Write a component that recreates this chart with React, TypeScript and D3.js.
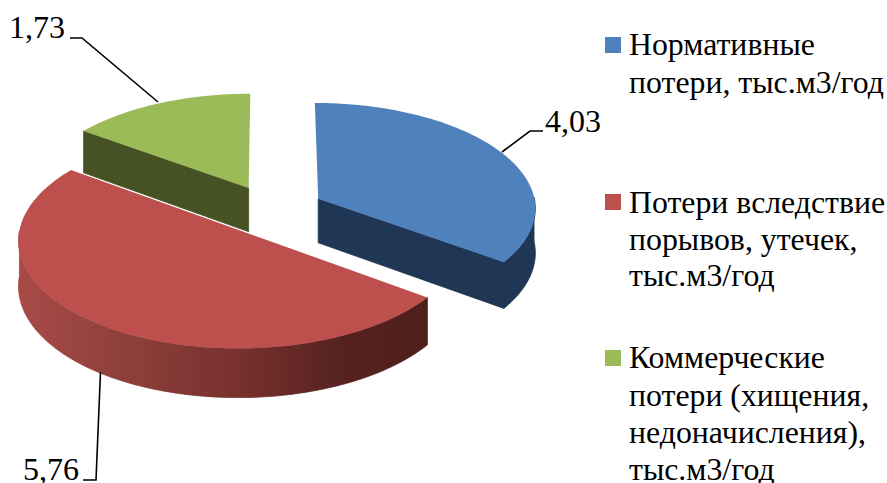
import React from "react";
import * as d3 from "d3";

const categories = ["Нормативные потери, тыс.м3/год", "Потери вследствие порывов, утечек, тыс.м3/год", "Коммерческие потери (хищения, недоначисления), тыс.м3/год"];
const values = [4.03, 5.76, 1.73];
const valueLabels = ["4,03", "5,76", "1,73"];
const topColors = ["#4f81bd", "#bd4f4c", "#9bbb59"];
const sideColors = ["#1f3654", "url(#redRim)", "#465223"];
const cutColors = ["#1f3654", "#4f1f1c", "#465223"];
const legendLines = [
  ["Нормативные", "потери, тыс.м3/год"],
  ["Потери вследствие", "порывов, утечек,", "тыс.м3/год"],
  ["Коммерческие", "потери (хищения,", "недоначисления),", "тыс.м3/год"],
];
const legendBaselines = [[55, 93], [213, 250, 286], [368, 406, 443, 480]];
const legendSwatchY = [37, 194, 350];
const labelPos = [[545, 132], [23, 480], [9, 38]];
const leaders = [
  [[502, 152], [530, 131], [543, 131]],
  [[100.5, 372], [96, 480], [83, 480]],
  [[158, 102], [82, 38], [70, 38]],
];

const W = 887, H = 483;
const CX = 272, CY = 210, RX = 218, RY = 105, PERSP = 0.079, DEPTH = 44.5, EXPLODE = 0.24;

type P = [number, number];
const project = (X: number, Z: number, drop = 0): P => {
  const s = 1 / (1 - PERSP * Z);
  return [CX + RX * X * s, CY + RY * Z * s + drop * DEPTH * s];
};
const line = d3.line<P>();
const arcs = d3.pie<number>().sort(null).value((d) => d)(values);

function sliceGeom(a: d3.PieArcDatum<number>) {
  const mid = (a.startAngle + a.endAngle) / 2;
  const ox = EXPLODE * Math.sin(mid), oz = -EXPLODE * Math.cos(mid);
  const pt = (t: number, drop = 0) => project(ox + Math.sin(t), oz - Math.cos(t), drop);
  const apex = (drop = 0) => project(ox, oz, drop);
  const n = 120;
  const ts = d3.range(n + 1).map((i) => a.startAngle + ((a.endAngle - a.startAngle) * i) / n);
  return { pt, apex, ts };
}

export default function App() {
  const geoms = arcs.map(sliceGeom);
  return (
    <svg width={W} height={H} viewBox={`0 0 ${W} ${H}`} style={{ position: "absolute", left: 0, top: 0, background: "#fff" }}>
      <defs>
        <linearGradient id="redRim" gradientUnits="userSpaceOnUse" x1={18} x2={425} y1={0} y2={0}>
          <stop offset="0" stopColor="#a84b47" />
          <stop offset="0.25" stopColor="#8f403c" />
          <stop offset="0.55" stopColor="#76302d" />
          <stop offset="0.8" stopColor="#55221f" />
          <stop offset="1" stopColor="#4f1f1c" />
        </linearGradient>
      </defs>
      {[2, 0, 1].map((i) => {
        const g = geoms[i];
        const top = g.ts.map((t) => g.pt(t));
        const topPath = line([g.apex(), ...top])! + "Z";
        const rimTs = g.ts.filter((t) => Math.cos(t) < 0.02);
        const rim = rimTs.length
          ? line([...rimTs.map((t) => g.pt(t)), ...rimTs.slice().reverse().map((t) => g.pt(t, 1))])! + "Z"
          : null;
        // the cut face that turns to the viewer: end edge for the first slice, start edge for the last
        const cutT = i === 0 ? arcs[i].endAngle : i === 2 ? arcs[i].startAngle : null;
        const cut = cutT === null ? null : line([g.apex(), g.pt(cutT), g.pt(cutT, 1), g.apex(1)])! + "Z";
        return (
          <g key={i}>
            {rim && <path d={rim} fill={sideColors[i]} stroke={sideColors[i]} strokeWidth={0.8} />}
            {cut && <path d={cut} fill={cutColors[i]} stroke={cutColors[i]} strokeWidth={0.8} />}
            <path d={topPath} fill={topColors[i]} />
          </g>
        );
      })}
      {leaders.map((l, i) => (
        <path key={i} d={line(l as P[])!} fill="none" stroke="#000" strokeWidth={1.6} />
      ))}
      {valueLabels.map((t, i) => (
        <text key={t} x={labelPos[i][0]} y={labelPos[i][1]} fontFamily="'Liberation Serif'" fontSize={32} fill="#000">{t}</text>
      ))}
      {categories.map((c, i) => (
        <g key={c}>
          <rect x={605} y={legendSwatchY[i]} width={16} height={16} fill={topColors[i]} />
          {legendLines[i].map((t, j) => (
            <text key={j} x={629} y={legendBaselines[i][j]} fontFamily="'Liberation Serif'" fontSize={31.8} fill="#000">{t}</text>
          ))}
        </g>
      ))}
    </svg>
  );
}
